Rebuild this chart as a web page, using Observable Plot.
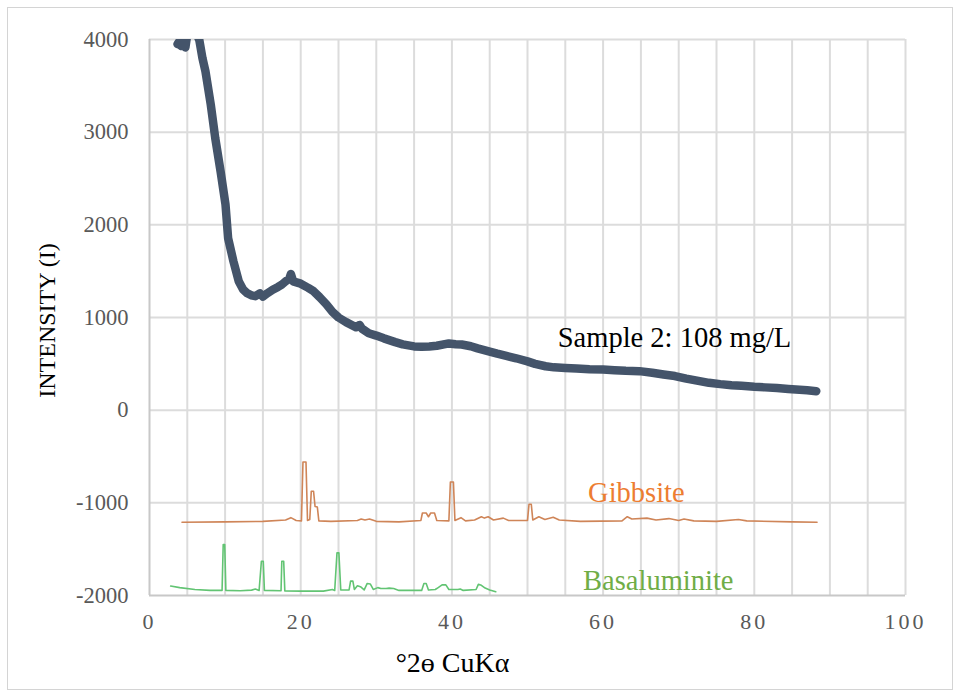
<!DOCTYPE html>
<html>
<head>
<meta charset="utf-8">
<script src="https://cdn.jsdelivr.net/npm/d3@7"></script>
<script src="https://cdn.jsdelivr.net/npm/@observablehq/plot@0.6"></script>
<style>
  html, body { margin: 0; padding: 0; background: #fff; }
  #wrap { position: relative; width: 960px; height: 692px; }
  #border { position: absolute; left: 7px; top: 7px; width: 944px; height: 681px; border: 1.5px solid #d4d4d4; pointer-events: none; }
  g[aria-label="x-axis tick label"] text { letter-spacing: 3px; }
</style>
</head>
<body>
<div id="wrap"><div id="chart"></div><div id="border"></div></div>
<script>
// ---- Data ----
const xTicks = [0, 20, 40, 60, 80, 100];
const yTicks = [-2000, -1000, 0, 1000, 2000, 3000, 4000];
const xGrid = [5,10,15,20,25,30,35,40,45,50,55,60,65,70,75,80,85,90,95,100];
const yGrid = [-1000, 0, 1000, 2000, 3000, 4000];

// Sample 2 (2θ, intensity)
const sampleX = [3.7,4.0,4.2,4.4,4.6,4.75,4.9,5.2,5.6,6.0,6.3,6.6,7.0,7.4,8.1,8.7,9.4,10.05,10.4,11.1,11.8,12.4,12.9,13.5,14.0,14.6,15.0,15.6,16.3,17.0,17.5,18.0,18.5,18.7,19.0,20,21,21.7,22.5,23.4,24.2,25,26,27.3,27.8,28.1,29,30,31,32.5,33.5,35,36,37,38,39.6,40.5,41.3,42.5,43.4,45,46,47.2,48.5,50,51,52.4,53.5,55,56.5,58.2,60,61.5,63,64.8,66.5,68,69.5,71,72.6,74,75.5,77,78.3,80,81.4,83,84.5,86,87,88.2];
const sampleY = [3950,3985,3930,3990,3950,3915,4000,4150,4200,4150,4050,3990,3800,3657,3300,2934,2578,2222,1855,1607,1392,1300,1262,1240,1230,1260,1225,1262,1300,1330,1355,1390,1420,1470,1390,1365,1320,1284,1220,1142,1060,1000,950,894,920,880,830,805,775,734,710,688,685,688,695,720,712,709,690,667,632,610,586,560,526,500,474,462,456,450,442,439,432,425,421,404,385,368,340,316,295,281,270,263,252,246,238,228,220,215,205];

// Gibbsite reference pattern (offset)
const gibbX = [4.3,10,15,18,18.7,19.4,20.1,20.3,20.7,20.9,21.2,21.4,21.7,21.9,22.2,22.4,24,27.5,28.0,28.5,29.1,30,33,35.9,36.1,36.6,36.9,37.2,37.7,38,39.6,39.8,40.2,40.4,41.2,41.8,43,43.9,44.3,44.8,45.5,46.8,47.5,50.0,50.2,50.5,50.7,51.5,52.3,53.4,54.2,57,62.5,63.2,63.8,65.8,67,68.7,70,70.7,72,75,77.9,79,85,88.3];
const gibbY = [-1210,-1205,-1200,-1185,-1160,-1190,-1195,-560,-560,-1190,-1180,-875,-875,-1040,-1045,-1195,-1200,-1190,-1175,-1185,-1175,-1200,-1205,-1190,-1110,-1110,-1150,-1110,-1110,-1190,-1195,-775,-775,-1190,-1160,-1195,-1185,-1150,-1165,-1150,-1185,-1165,-1190,-1190,-1015,-1015,-1185,-1150,-1180,-1155,-1185,-1200,-1195,-1150,-1175,-1165,-1185,-1170,-1190,-1175,-1195,-1200,-1180,-1195,-1205,-1210];

// Basaluminite reference pattern (offset)
const basaX = [2.8,4,6,8,9.6,9.75,9.95,10.1,12,13.5,14.0,14.5,14.8,15.05,15.2,17.4,17.5,17.75,17.9,20,23,24.2,24.5,24.8,25.05,25.3,26.4,26.6,26.9,27.1,27.5,27.9,28.4,28.8,29.2,29.6,30.2,30.6,31.3,31.7,32.3,33,36,36.3,36.6,36.9,37.8,38.0,38.7,39.2,39.6,40.8,41.1,41.5,43.2,43.5,43.9,44.4,45,45.8];
const basaY = [-1898,-1915,-1935,-1945,-1945,-1450,-1450,-1945,-1948,-1942,-1930,-1945,-1630,-1630,-1945,-1948,-1630,-1630,-1950,-1953,-1953,-1935,-1945,-1540,-1540,-1940,-1940,-1845,-1845,-1935,-1895,-1905,-1940,-1870,-1875,-1935,-1915,-1925,-1925,-1920,-1925,-1945,-1945,-1870,-1870,-1940,-1935,-1925,-1885,-1885,-1935,-1935,-1930,-1945,-1935,-1880,-1890,-1920,-1940,-1960];

// Labels
const sampleLabel = [{x: 54.0, y: 775, text: "Sample 2: 108 mg/L"}];
const gibbLabel = [{x: 64.4, y: -895, text: "Gibbsite"}];
const basaLabel = [{x: 67.3, y: -1845, text: "Basaluminite"}];

const sample = sampleX.map((x, i) => ({x, y: sampleY[i]}));
const gibb = gibbX.map((x, i) => ({x, y: gibbY[i]}));
const basa = basaX.map((x, i) => ({x, y: basaY[i]}));

const font = "Liberation Serif, DejaVu Serif";

const chart = Plot.plot({
  width: 960,
  height: 692,
  marginLeft: 149,
  marginRight: 55,
  marginTop: 39,
  marginBottom: 97,
  style: {fontFamily: font, fontSize: "20px", background: "transparent"},
  x: {domain: [0, 100]},
  y: {domain: [-2000, 4000]},
  marks: [
    Plot.ruleX(xGrid, {stroke: "#dcdcdc", strokeWidth: 2}),
    Plot.ruleY(yGrid, {stroke: "#dcdcdc", strokeWidth: 2}),
    Plot.ruleX([0], {stroke: "#c8c8c8", strokeWidth: 2}),
    Plot.ruleY([-2000], {stroke: "#c8c8c8", strokeWidth: 2}),
    Plot.axisX({ticks: xTicks, tickSize: 0, tickPadding: 18, fill: "#595959", fontSize: 22, fontFamily: font, label: null, tickFormat: d => String(d)}),
    Plot.axisY({ticks: yTicks, tickSize: 0, tickPadding: 21, fill: "#595959", fontSize: 22.5, fontFamily: font, label: null, tickFormat: d => String(d)}),
    Plot.line(gibb, {x: "x", y: "y", stroke: "#cf8558", strokeWidth: 1.6}),
    Plot.line(basa, {x: "x", y: "y", stroke: "#62c473", strokeWidth: 1.6}),
    Plot.line(sample, {x: "x", y: "y", stroke: "#44546a", strokeWidth: 8.5, strokeLinejoin: "round", strokeLinecap: "round", clip: true}),
    Plot.text(sampleLabel, {x: "x", y: "y", text: "text", fill: "#000", textAnchor: "start", fontSize: 28.5, fontFamily: font}),
    Plot.text(gibbLabel, {x: "x", y: "y", text: "text", fill: "#ed7d31", fontSize: 28.5, fontFamily: font}),
    Plot.text(basaLabel, {x: "x", y: "y", text: "text", fill: "#70ad47", fontSize: 28.5, fontFamily: font}),
    Plot.text(["°2ө CuKα"], {frameAnchor: "bottom", dx: -75, dy: 68, textAnchor: "middle", lineAnchor: "middle", fill: "#000", fontSize: 28, fontFamily: font}),
    Plot.text(["INTENSITY (I)"], {frameAnchor: "left", dx: -102, dy: 3, rotate: -90, textAnchor: "middle", lineAnchor: "middle", fill: "#000", fontSize: 24, fontFamily: font})
  ]
});
document.getElementById("chart").appendChild(chart);
</script>
</body>
</html>
